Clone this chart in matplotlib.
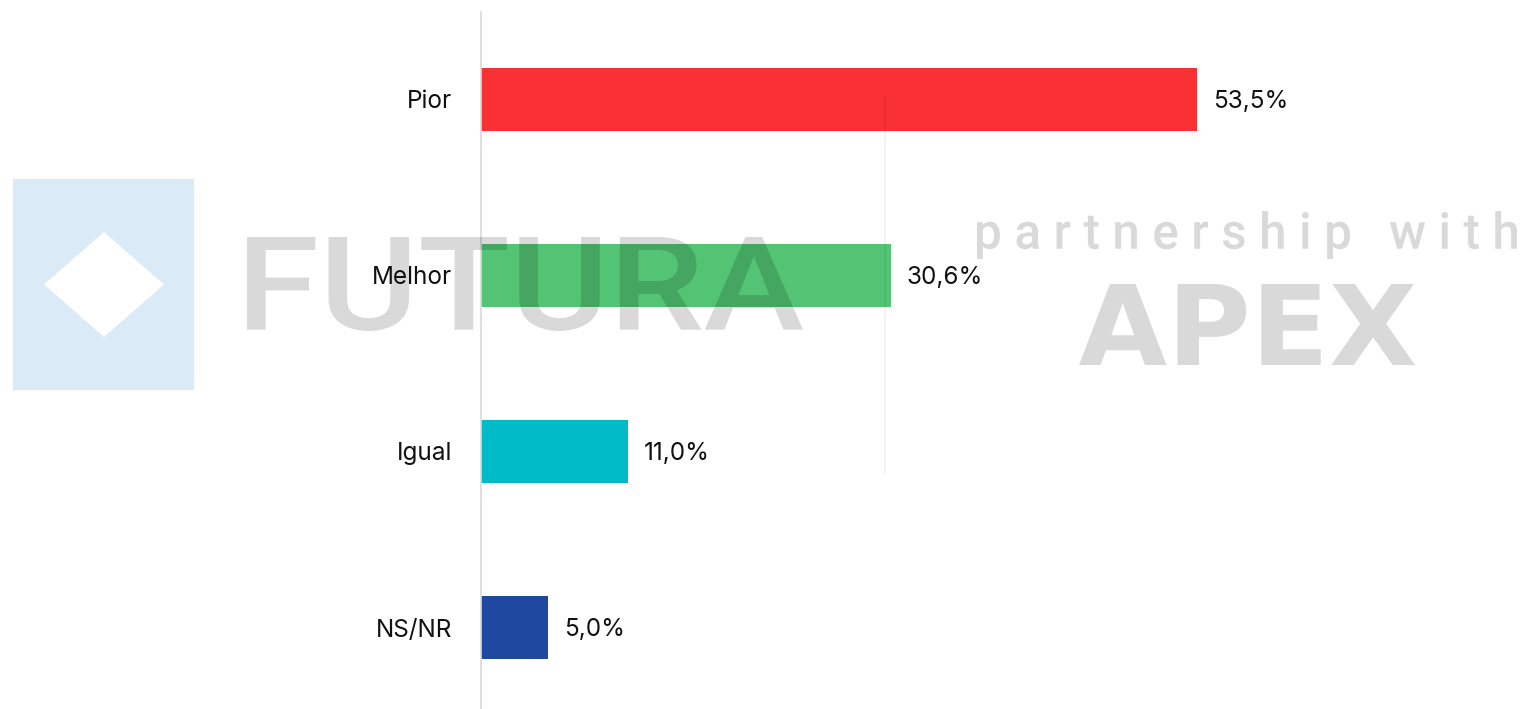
import matplotlib
matplotlib.use("Agg")
import matplotlib.pyplot as plt
from matplotlib.patches import Rectangle, Polygon, PathPatch
from matplotlib.textpath import TextPath
from matplotlib.font_manager import FontProperties
from matplotlib.transforms import Affine2D

categories = ["Pior", "Melhor", "Igual", "NS/NR"]
values = [53.5, 30.6, 11.0, 5.0]
colors = ["#F93034", "#52C473", "#00BAC6", "#1F48A0"]
value_labels = [f"{v:.1f}".replace(".", ",") + "%" for v in values]

W, H = 1524, 709
plt.rcParams["font.family"] = ["Inter", "DejaVu Sans"]

fig = plt.figure(figsize=(W / 100, H / 100), dpi=100)
fig.patch.set_facecolor("white")

# main bar chart
ax = fig.add_axes([481 / W, 0, 1 - 481 / W, 697 / H])
ypos = list(range(len(categories)))
bars = ax.barh(ypos, values, height=0.358, color=colors, zorder=2)
for b, lab in zip(bars, value_labels):
    ax.annotate(lab, (b.get_width(), b.get_y() + b.get_height() / 2),
                xytext=(11.5, -1.5), textcoords="offset points",
                va="center", ha="left", fontsize=17.5, color="#111111")
ax.set_yticks(ypos)
ax.set_yticklabels(categories, fontsize=17.5, color="#111111")
ax.tick_params(axis="y", length=0, pad=21)
ax.tick_params(axis="x", length=0, labelbottom=False)
ax.set_xlim(0, (W - 481) / 13.383)
ax.set_ylim(3.463, -0.497)
for s in ["top", "right", "bottom"]:
    ax.spines[s].set_visible(False)
ax.spines["left"].set_color("#D9D9D9")
ax.spines["left"].set_linewidth(1.2)
ax.set_facecolor("none")

# watermark overlay in pixel coordinates
wm = fig.add_axes([0, 0, 1, 1], zorder=5)
wm.set_xlim(0, W)
wm.set_ylim(H, 0)
wm.axis("off")
wm.patch.set_alpha(0)

wm.add_patch(Rectangle((13, 179), 181, 211, color="#DAEAF6", lw=0, zorder=1))
wm.add_patch(Polygon([(44, 284.5), (104, 232), (164, 284.5), (104, 337)],
                     closed=True, color="white", lw=0, zorder=2))
wm.plot([885, 885], [96, 473], color="black", alpha=0.06, lw=1.2)


def fitted_text(s, x0, x1, y0, y1, weight="normal", family="DejaVu Sans"):
    fp = FontProperties(family=family, weight=weight)
    path = TextPath((0, 0), s, size=100, prop=fp)
    bb = path.get_extents()
    tr = (Affine2D().translate(-bb.x0, -bb.y0)
          .scale((x1 - x0) / bb.width, -(y1 - y0) / bb.height)
          .translate(x0, y1))
    wm.add_patch(PathPatch(tr.transform_path(path), facecolor="black",
                           alpha=0.15, lw=0, zorder=3))


fitted_text("FUTURA", 247, 803, 237, 331, weight="medium", family="Roboto")
fitted_text("p a r t n e r s h i p   w i t h", 977, 1517, 211, 259,
            weight="medium", family="Roboto")
fitted_text("APEX", 1079, 1415, 284, 365, weight="bold")

fig.savefig("out.png", dpi=100)
